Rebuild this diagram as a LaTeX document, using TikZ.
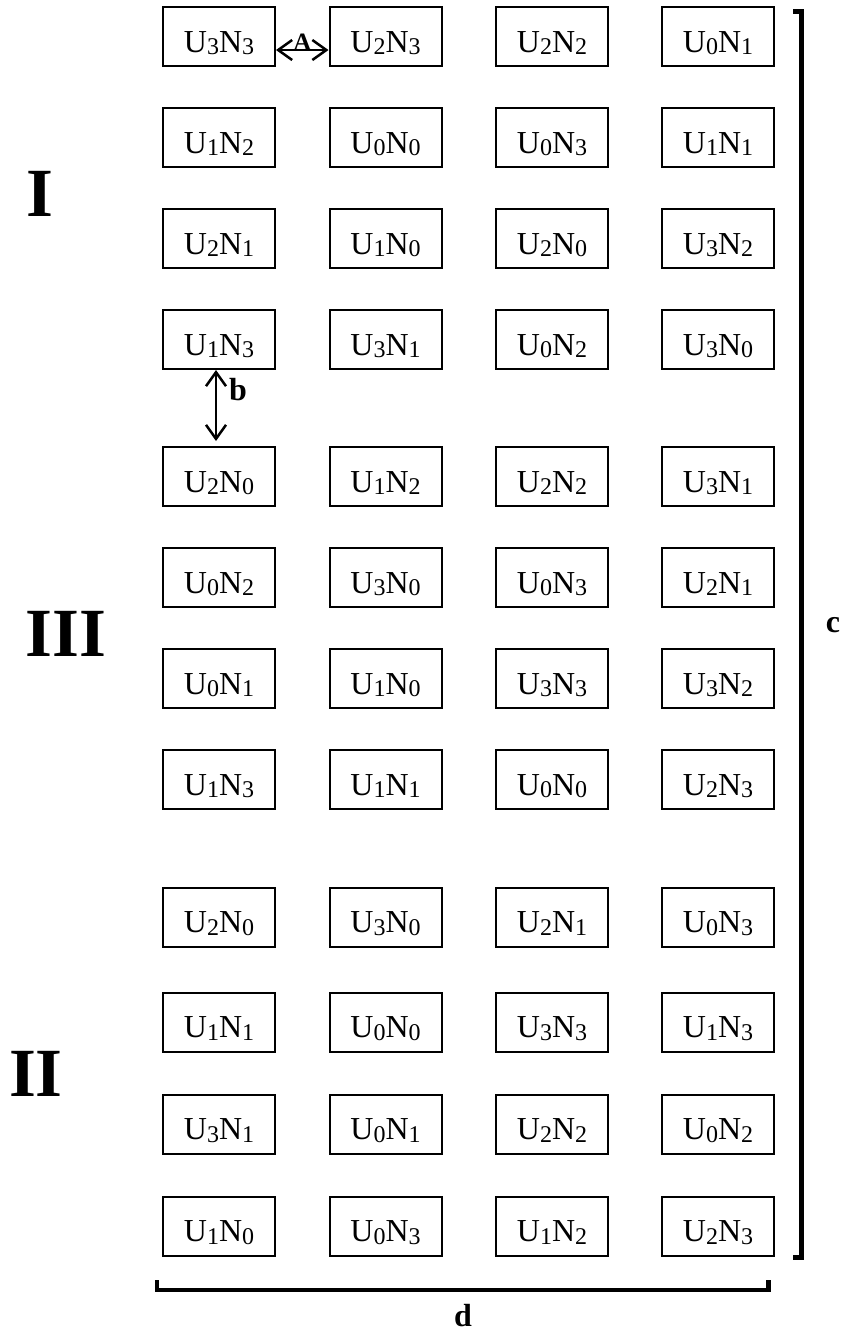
\documentclass[tikz,border=0pt]{standalone}
\usepackage{fontspec}
\setmainfont{Liberation Serif}
\usetikzlibrary{arrows.meta}
\newcommand{\sbx}[1]{\raisebox{-2.5pt}{\fontsize{24}{24}\selectfont #1}}
\newcommand{\UN}[2]{U\sbx{#1}N\sbx{#2}}
\begin{document}
\begin{tikzpicture}[x=1pt,y=-1pt,
  cell/.style={draw, line width=2pt, minimum width=112pt, inner sep=0pt,
    text height=45pt, text depth=14pt, font=\fontsize{32}{36}\selectfont},
  roman/.style={anchor=base, font=\fontsize{69}{72}\selectfont\bfseries},
  lbl/.style={anchor=base, font=\fontsize{32}{36}\selectfont\bfseries},
  twoway/.style={line width=2.5pt, {Straight Barb[length=14pt,width=20pt,line width=2.5pt]}-{Straight Barb[length=14pt,width=20pt,line width=2.5pt]}},
  brack/.style={line width=4.5pt}]
\useasboundingbox (0,0) rectangle (842,1334);

\def\cA{219}\def\cB{385.5}\def\cC{552}\def\cD{718}
\foreach \r/\y/\a/\b/\c/\d in {
 1/36.5/{\UN33}/{\UN23}/{\UN22}/{\UN01},
 2/137.5/{\UN12}/{\UN00}/{\UN03}/{\UN11},
 3/238.5/{\UN21}/{\UN10}/{\UN20}/{\UN32},
 4/339.5/{\UN13}/{\UN31}/{\UN02}/{\UN30},
 5/476.5/{\UN20}/{\UN12}/{\UN22}/{\UN31},
 6/577.5/{\UN02}/{\UN30}/{\UN03}/{\UN21},
 7/678.5/{\UN01}/{\UN10}/{\UN33}/{\UN32},
 8/779.5/{\UN13}/{\UN11}/{\UN00}/{\UN23},
 9/917/{\UN20}/{\UN30}/{\UN21}/{\UN03},
 10/1022/{\UN11}/{\UN00}/{\UN33}/{\UN13},
 11/1124/{\UN31}/{\UN01}/{\UN22}/{\UN02},
 12/1226/{\UN10}/{\UN03}/{\UN12}/{\UN23}}{
  \node[cell] (n\r-1) at (\cA,\y) {\a};
  \node[cell] (n\r-2) at (\cB,\y) {\b};
  \node[cell] (n\r-3) at (\cC,\y) {\c};
  \node[cell] (n\r-4) at (\cD,\y) {\d};
}

% arrow A
\draw[twoway] ([yshift=-13.5pt]n1-1.east) -- ([yshift=-13.5pt]n1-2.west);
\node[lbl, font=\fontsize{25}{28}\selectfont\bfseries] (lA) at (302.5,50) {A};

% arrow b
\draw[twoway] ([xshift=-3pt]n4-1.south) -- ([xshift=-3pt,yshift=5pt]n5-1.north);
\node[lbl] (lb) at (238,400) {b};

% section labels
\node[roman] (sI) at (40,216) {I};
\node[roman] (sIII) at (66,656) {III};
\node[roman] (sII) at (36,1096) {II};

% right bracket
\coordinate (rt) at (793,11.5);
\coordinate (rb) at (793,1257.5);
\draw[brack] (rt) -- (801.5,11.5) -- (801.5,1257.5) -- (rb);
\node[lbl] (lc) at (833,632) {c};

% bottom bracket
\coordinate (bl) at (157,1280);
\coordinate (br) at (768.5,1280);
\draw[brack] (bl) -- (157,1290) -- (768.5,1290) -- (br);
\node[lbl] (ld) at (463,1326) {d};
\end{tikzpicture}
\end{document}
